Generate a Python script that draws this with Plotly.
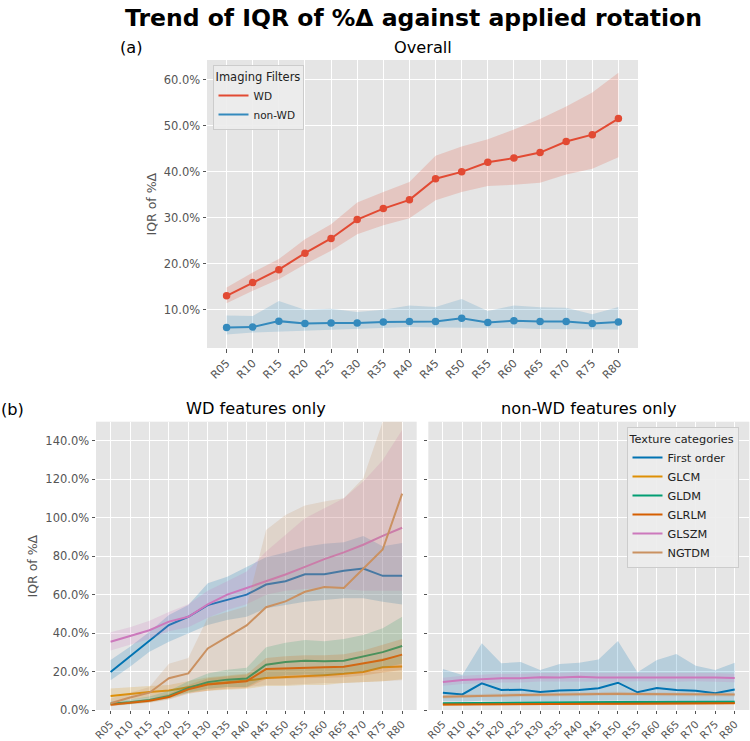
import plotly.graph_objects as go

W, H = 750, 741

rotations = ["R05", "R10", "R15", "R20", "R25", "R30", "R35", "R40",
             "R45", "R50", "R55", "R60", "R65", "R70", "R75", "R80"]

top_ticks = [10, 20, 30, 40, 50, 60]
bottom_ticks = [0, 20, 40, 60, 80, 100, 120, 140]

# ---- (a) Overall ----
wd_mid = [13.0, 15.9, 18.7, 22.3, 25.5, 29.6, 32.0, 33.9, 38.5, 40.0, 42.1, 43.0, 44.2, 46.6, 48.1, 51.6]
wd_hi = [14.8, 18.1, 21.0, 25.3, 28.6, 33.3, 35.6, 37.8, 43.5, 45.5, 47.1, 49.2, 51.5, 54.2, 57.3, 61.6]
wd_lo = [11.4, 14.1, 16.6, 19.9, 22.8, 26.4, 28.4, 29.9, 33.8, 35.6, 36.9, 37.2, 37.6, 39.4, 40.7, 43.2]

nwd_mid = [6.1, 6.2, 7.5, 7.0, 7.1, 7.1, 7.3, 7.4, 7.4, 8.1, 7.2, 7.6, 7.4, 7.4, 7.0, 7.3]
nwd_hi = [8.7, 8.6, 11.9, 10.0, 10.2, 9.5, 10.0, 10.9, 10.6, 12.3, 9.7, 10.9, 10.5, 10.4, 9.0, 10.6]
nwd_lo = [4.6, 5.0, 5.3, 5.5, 5.6, 5.8, 6.0, 6.2, 6.1, 6.0, 6.0, 6.0, 5.8, 5.8, 5.7, 5.7]

# ---- (b) WD features only ----
wd_first = [19.8, 28.0, 36.4, 44.2, 48.5, 54.6, 57.3, 60.0, 65.3, 67.0, 70.6, 70.6, 72.4, 73.6, 69.8, 69.9]
wd_first_hi = [26.0, 32.9, 40.7, 49.4, 54.6, 65.9, 69.3, 74.5, 79.5, 82.0, 85.0, 86.5, 87.3, 90.5, 85.2, 86.9]
wd_first_lo = [15.5, 22.5, 30.3, 35.5, 39.9, 44.2, 46.8, 48.5, 52.9, 54.6, 56.3, 57.2, 58.1, 58.1, 56.3, 54.9]

wd_glcm = [7.3, 8.4, 9.4, 10.2, 11.8, 13.5, 14.5, 15.3, 16.6, 17.0, 17.5, 18.1, 18.8, 19.8, 22.2, 22.6]
wd_glcm_hi = [11.2, 12.0, 12.5, 13.0, 15.0, 17.0, 18.0, 19.0, 21.0, 21.5, 22.0, 22.5, 23.0, 24.0, 27.0, 28.0]
wd_glcm_lo = [4.5, 5.5, 6.5, 7.5, 9.0, 10.0, 10.5, 11.0, 12.5, 12.5, 13.0, 13.0, 14.0, 14.5, 15.0, 16.0]

wd_gldm = [3.3, 4.0, 5.2, 7.3, 11.5, 14.5, 15.8, 16.4, 23.6, 25.0, 25.6, 25.4, 25.6, 27.7, 30.1, 33.3]
wd_gldm_hi = [4.5, 5.5, 7.0, 10.0, 15.0, 19.0, 21.0, 22.0, 32.6, 35.0, 36.4, 35.8, 36.9, 39.0, 42.5, 48.5]
wd_gldm_lo = [2.5, 3.0, 4.0, 6.0, 9.0, 11.0, 12.0, 12.0, 17.0, 18.0, 18.5, 18.0, 19.0, 20.0, 22.0, 24.0]

wd_glrlm = [2.7, 3.7, 4.8, 6.8, 10.8, 13.3, 14.3, 15.0, 21.3, 21.7, 22.0, 22.2, 22.5, 24.2, 26.0, 28.8]
wd_glrlm_hi = [3.5, 4.5, 6.0, 8.5, 13.0, 16.5, 17.5, 18.5, 27.0, 28.0, 28.5, 28.5, 29.0, 31.0, 34.0, 37.0]
wd_glrlm_lo = [2.0, 3.0, 3.8, 5.5, 8.5, 10.0, 11.0, 11.5, 16.0, 16.5, 16.5, 16.8, 17.0, 18.0, 19.5, 21.0]

wd_glszm = [35.5, 38.5, 41.5, 46.0, 48.5, 55.0, 60.0, 63.5, 67.0, 70.5, 74.5, 78.5, 82.0, 86.0, 90.6, 94.8]
wd_glszm_hi = [40.5, 43.0, 46.5, 51.0, 55.0, 62.0, 67.0, 72.0, 82.5, 91.0, 99.8, 105.0, 110.2, 118.9, 130.0, 145.7]
wd_glszm_lo = [31.0, 34.0, 37.0, 41.0, 43.0, 48.0, 52.0, 55.0, 60.0, 62.0, 63.0, 63.5, 63.0, 62.0, 62.0, 62.0]

wd_ngtdm = [3.5, 6.5, 9.0, 16.5, 19.0, 32.0, 38.0, 44.0, 53.5, 56.5, 61.5, 64.0, 63.5, 73.5, 83.5, 112.6]
wd_ngtdm_hi = [6.0, 9.0, 12.0, 24.0, 27.0, 48.0, 51.0, 54.0, 93.7, 101.5, 106.4, 108.5, 110.2, 120.6, 150.0, 185.0]
wd_ngtdm_lo = [2.0, 3.5, 5.0, 7.0, 10.0, 11.0, 12.0, 12.0, 13.0, 13.0, 13.5, 14.0, 14.0, 14.5, 15.0, 15.5]

# ---- (b) non-WD features only ----
nwd_first = [9.0, 8.1, 13.9, 10.4, 10.6, 9.4, 10.2, 10.4, 11.3, 14.2, 9.2, 11.4, 10.4, 10.0, 8.7, 10.7]
nwd_first_hi = [21.3, 18.2, 34.7, 24.3, 25.0, 20.8, 23.9, 24.6, 26.3, 35.9, 19.6, 26.0, 29.1, 23.0, 20.8, 24.6]
nwd_first_lo = [4.5, 4.4, 4.8, 4.6, 4.7, 4.6, 4.7, 4.8, 4.8, 5.0, 4.7, 4.8, 4.7, 4.7, 4.6, 4.7]

nwd_glcm = [3.0, 3.1, 3.2, 3.2, 3.3, 3.3, 3.4, 3.4, 3.5, 3.5, 3.5, 3.6, 3.6, 3.6, 3.6, 3.7]
nwd_glcm_hi = [3.6, 3.7, 3.8, 3.8, 3.9, 3.9, 4.0, 4.0, 4.1, 4.1, 4.1, 4.2, 4.2, 4.2, 4.2, 4.3]
nwd_glcm_lo = [2.4, 2.5, 2.6, 2.6, 2.7, 2.7, 2.8, 2.8, 2.9, 2.9, 2.9, 3.0, 3.0, 3.0, 3.0, 3.1]

nwd_gldm = [3.5, 3.6, 3.8, 3.9, 4.0, 4.0, 4.1, 4.1, 4.2, 4.2, 4.2, 4.2, 4.3, 4.3, 4.3, 4.3]
nwd_gldm_hi = [4.0, 4.1, 4.3, 4.4, 4.5, 4.5, 4.6, 4.6, 4.7, 4.7, 4.7, 4.7, 4.8, 4.8, 4.8, 4.8]
nwd_gldm_lo = [3.0, 3.1, 3.3, 3.4, 3.5, 3.5, 3.6, 3.6, 3.7, 3.7, 3.7, 3.7, 3.8, 3.8, 3.8, 3.8]

nwd_glrlm = [2.8, 2.9, 3.0, 3.1, 3.1, 3.2, 3.2, 3.3, 3.3, 3.3, 3.4, 3.4, 3.4, 3.4, 3.5, 3.5]
nwd_glrlm_hi = [3.2, 3.3, 3.4, 3.5, 3.5, 3.6, 3.6, 3.7, 3.7, 3.7, 3.8, 3.8, 3.8, 3.8, 3.9, 3.9]
nwd_glrlm_lo = [2.4, 2.5, 2.6, 2.7, 2.7, 2.8, 2.8, 2.9, 2.9, 2.9, 3.0, 3.0, 3.0, 3.0, 3.1, 3.1]

nwd_glszm = [14.6, 15.6, 16.0, 16.5, 16.5, 17.0, 16.9, 17.3, 16.9, 16.9, 17.2, 17.2, 16.9, 17.2, 16.9, 16.6]
nwd_glszm_hi = [16.8, 17.8, 18.3, 18.8, 18.8, 19.3, 19.2, 19.6, 19.2, 19.2, 19.5, 19.5, 19.2, 19.5, 19.2, 18.9]
nwd_glszm_lo = [12.6, 13.5, 13.9, 14.3, 14.3, 14.8, 14.7, 15.0, 14.7, 14.7, 15.0, 15.0, 14.7, 15.0, 14.7, 14.4]

nwd_ngtdm = [6.9, 7.2, 7.6, 7.6, 7.8, 8.0, 8.1, 8.2, 8.3, 8.5, 8.3, 8.2, 8.1, 8.1, 8.0, 8.0]
nwd_ngtdm_hi = [7.9, 8.2, 8.6, 8.6, 8.8, 9.0, 9.1, 9.2, 9.3, 9.5, 9.3, 9.2, 9.1, 9.1, 9.0, 9.0]
nwd_ngtdm_lo = [5.9, 6.2, 6.6, 6.6, 6.8, 7.0, 7.1, 7.2, 7.3, 7.5, 7.3, 7.2, 7.1, 7.1, 7.0, 7.0]

categories = ["First order", "GLCM", "GLDM", "GLRLM", "GLSZM", "NGTDM"]
cat_colors = ["#0173B2", "#DE8F05", "#029E73", "#D55E00", "#CC78BC", "#CA9161"]
wd_series = [(wd_first, wd_first_lo, wd_first_hi), (wd_glcm, wd_glcm_lo, wd_glcm_hi),
             (wd_gldm, wd_gldm_lo, wd_gldm_hi), (wd_glrlm, wd_glrlm_lo, wd_glrlm_hi),
             (wd_glszm, wd_glszm_lo, wd_glszm_hi), (wd_ngtdm, wd_ngtdm_lo, wd_ngtdm_hi)]
nwd_series = [(nwd_first, nwd_first_lo, nwd_first_hi), (nwd_glcm, nwd_glcm_lo, nwd_glcm_hi),
              (nwd_gldm, nwd_gldm_lo, nwd_gldm_hi), (nwd_glrlm, nwd_glrlm_lo, nwd_glrlm_hi),
              (nwd_glszm, nwd_glszm_lo, nwd_glszm_hi), (nwd_ngtdm, nwd_ngtdm_lo, nwd_ngtdm_hi)]

RED, BLUE = "#E24A33", "#348ABD"
BG = "#E5E5E5"
TXT = "#555555"
FONT = "DejaVu Sans"


def rgba(hexc, a):
    h = hexc.lstrip("#")
    return "rgba(%d,%d,%d,%.2f)" % (int(h[0:2], 16), int(h[2:4], 16), int(h[4:6], 16), a)


fig = go.Figure()


def add_band(x, lo, hi, color, xa, ya):
    fig.add_trace(go.Scatter(
        x=list(x) + list(x)[::-1], y=list(hi) + list(lo)[::-1],
        fill="toself", fillcolor=rgba(color, 0.2), line=dict(width=0),
        mode="lines", hoverinfo="skip", showlegend=False, xaxis=xa, yaxis=ya))


# (a)
for name, mid, lo, hi, col in [("WD", wd_mid, wd_lo, wd_hi, RED),
                               ("non-WD", nwd_mid, nwd_lo, nwd_hi, BLUE)]:
    add_band(rotations, lo, hi, col, "x", "y")
    fig.add_trace(go.Scatter(x=rotations, y=mid, mode="lines", name=name,
                             line=dict(color=col, width=2), legend="legend",
                             xaxis="x", yaxis="y"))
    fig.add_trace(go.Scatter(x=rotations, y=mid, mode="markers", showlegend=False,
                             marker=dict(color=col, size=7.5), xaxis="x", yaxis="y"))

# (b) WD
for cat, col, (mid, lo, hi) in zip(categories, cat_colors, wd_series):
    add_band(rotations, lo, hi, col, "x2", "y2")
    fig.add_trace(go.Scatter(x=rotations, y=mid, mode="lines", name=cat,
                             line=dict(color=col, width=2), legend="legend2",
                             xaxis="x2", yaxis="y2"))

# (b) non-WD
for cat, col, (mid, lo, hi) in zip(categories, cat_colors, nwd_series):
    add_band(rotations, lo, hi, col, "x3", "y3")
    fig.add_trace(go.Scatter(x=rotations, y=mid, mode="lines", name=cat,
                             line=dict(color=col, width=2), showlegend=False,
                             xaxis="x3", yaxis="y3"))


def px_x(v):
    return v / W


def px_y(v):
    return 1 - v / H


def pct_labels(vals):
    return ["%.1f%%" % v for v in vals]


xcommon = dict(type="category", categoryorder="array", categoryarray=rotations,
               range=[-0.75, 15.75], showgrid=True, gridcolor="white", gridwidth=1,
               zeroline=False, showline=False, ticks="outside", ticklen=3.5,
               tickcolor=TXT, tickangle=-45, automargin=False,
               tickfont=dict(family=FONT, size=11, color=TXT))
ycommon = dict(showgrid=True, gridcolor="white", gridwidth=1, zeroline=False,
               showline=False, ticks="outside", ticklen=3.5, tickcolor=TXT,
               tickmode="array", automargin=False,
               tickfont=dict(family=FONT, size=11.5, color=TXT))
xbottom = dict(xcommon, tickfont=dict(family=FONT, size=10.5, color=TXT), ticklen=3)

fig.update_layout(
    width=W, height=H, margin=dict(l=0, r=0, t=0, b=0),
    paper_bgcolor="white", plot_bgcolor=BG,
    font=dict(family=FONT, color=TXT),
    xaxis=dict(xcommon, domain=[px_x(207), px_x(638)], anchor="y"),
    yaxis=dict(ycommon, domain=[px_y(348), px_y(60)], range=[1.65, 64.35],
               tickvals=top_ticks, ticktext=pct_labels(top_ticks), anchor="x"),
    xaxis2=dict(xbottom, domain=[px_x(96), px_x(416.7)], anchor="y2"),
    yaxis2=dict(ycommon, domain=[px_y(710), px_y(421.7)], range=[0, 150],
                tickvals=bottom_ticks, ticktext=pct_labels(bottom_ticks), anchor="x2"),
    xaxis3=dict(xbottom, domain=[px_x(428.3), px_x(749.3)], anchor="y3"),
    yaxis3=dict(ycommon, domain=[px_y(710), px_y(421.7)], range=[0, 150],
                tickvals=bottom_ticks, matches="y2",
                showticklabels=False, anchor="x3"),
    legend=dict(x=px_x(212.5), y=px_y(65), xanchor="left", yanchor="top",
                bgcolor="rgba(236,236,236,0.9)", bordercolor="#CCCCCC", borderwidth=1,
                title=dict(text="Imaging Filters", font=dict(family=FONT, size=11.5, color="#222222")),
                font=dict(family=FONT, size=10.5, color="#222222"),
                tracegroupgap=0, itemwidth=30),
    legend2=dict(x=px_x(626.5), y=px_y(427.3), xanchor="left", yanchor="top",
                 bgcolor="rgba(236,236,236,0.9)", bordercolor="#CCCCCC", borderwidth=1,
                 title=dict(text="Texture categories", font=dict(family=FONT, size=11.3, color="#222222")),
                 font=dict(family=FONT, size=11.3, color="#222222"),
                 tracegroupgap=0, itemwidth=30),
    showlegend=True,
)

annots = [
    dict(text="<b>Trend of IQR of %Δ against applied rotation</b>", x=px_x(413), y=px_y(18),
         font=dict(family=FONT, size=23.5, color="black")),
    dict(text="(a)", x=px_x(131), y=px_y(47), font=dict(family=FONT, size=16.2, color="black")),
    dict(text="Overall", x=px_x(422.5), y=px_y(47), font=dict(family=FONT, size=16.2, color="black")),
    dict(text="(b)", x=px_x(12), y=px_y(409), font=dict(family=FONT, size=16.2, color="black")),
    dict(text="WD features only", x=px_x(256.3), y=px_y(408),
         font=dict(family=FONT, size=16.2, color="black")),
    dict(text="non-WD features only", x=px_x(588.8), y=px_y(408),
         font=dict(family=FONT, size=16.2, color="black")),
    dict(text="IQR of %Δ", x=px_x(151.5), y=px_y(204), textangle=-90,
         font=dict(family=FONT, size=12.5, color=TXT)),
    dict(text="IQR of %Δ", x=px_x(31.5), y=px_y(566), textangle=-90,
         font=dict(family=FONT, size=12.5, color=TXT)),
]
for a in annots:
    a.update(xref="paper", yref="paper", xanchor="center", yanchor="middle", showarrow=False)
fig.update_layout(annotations=annots)

fig.write_html("out.html")
